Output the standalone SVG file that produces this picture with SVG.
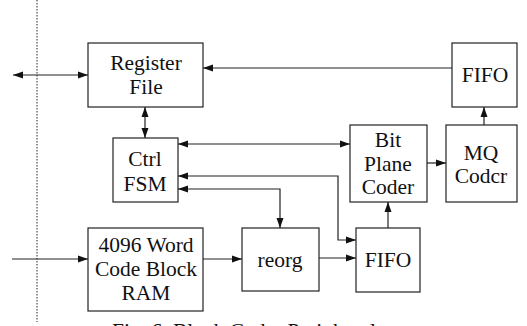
<svg xmlns="http://www.w3.org/2000/svg" width="527" height="326" viewBox="0 0 527 326">
<defs>
<marker id="ah" markerUnits="userSpaceOnUse" markerWidth="11" markerHeight="8" refX="10" refY="4" orient="auto-start-reverse">
<path d="M0,0.5 L10,4 L0,7.5 Z" fill="#111"/>
</marker>
<style>
.box{fill:#fff;stroke:#222;stroke-width:1.2}
.t{font-family:'Liberation Serif','DejaVu Serif',serif;font-size:21.5px;fill:#111;text-anchor:middle}
.c{fill:none;stroke:#222;stroke-width:1.2}
.e{marker-end:url(#ah)}
.b{marker-start:url(#ah);marker-end:url(#ah)}
</style>
</defs>
<rect width="527" height="326" fill="#fff"/>
<line x1="37" y1="0" x2="37" y2="322" stroke="#222" stroke-width="1" stroke-dasharray="1.5,1.5"/>
<g id="connectors">
<line class="c b" x1="13" y1="75" x2="88" y2="75"/>
<line class="c e" x1="452" y1="68" x2="203" y2="68"/>
<line class="c b" x1="145" y1="107" x2="145" y2="138"/>
<line class="c b" x1="178" y1="144" x2="350" y2="144"/>
<path class="c b" d="M178,176 H338 V240 H356"/>
<path class="c b" d="M178,189 H280 V228"/>
<line class="c e" x1="12" y1="259" x2="88" y2="259"/>
<line class="c e" x1="203" y1="259" x2="242" y2="259"/>
<line class="c e" x1="319" y1="258" x2="356" y2="258"/>
<line class="c e" x1="388" y1="228" x2="388" y2="202"/>
<line class="c e" x1="427" y1="163" x2="446" y2="163"/>
<line class="c e" x1="484" y1="125" x2="484" y2="107"/>
</g>
<g id="register-file">
<rect class="box" x="88" y="43" width="115" height="64"/>
<text class="t" x="146" y="70">Register</text>
<text class="t" x="146" y="94">File</text>
</g>
<g id="ctrl-fsm">
<rect class="box" x="113" y="138" width="65" height="64"/>
<text class="t" x="145" y="166">Ctrl</text>
<text class="t" x="145" y="191">FSM</text>
</g>
<g id="code-block-ram">
<rect class="box" x="88" y="228" width="115" height="83"/>
<text class="t" x="146" y="252">4096 Word</text>
<text class="t" x="146" y="276">Code Block</text>
<text class="t" x="146" y="300">RAM</text>
</g>
<g id="reorg">
<rect class="box" x="242" y="228" width="77" height="63"/>
<text class="t" x="280" y="267">reorg</text>
</g>
<g id="fifo-bottom">
<rect class="box" x="356" y="228" width="64" height="64"/>
<text class="t" x="388" y="267">FIFO</text>
</g>
<g id="bit-plane-coder">
<rect class="box" x="350" y="125" width="77" height="77"/>
<text class="t" x="388" y="147">Bit</text>
<text class="t" x="388" y="171">Plane</text>
<text class="t" x="388" y="194">Coder</text>
</g>
<g id="mq-coder">
<rect class="box" x="446" y="125" width="71" height="77"/>
<text class="t" x="481" y="160">MQ</text>
<text class="t" x="481" y="183">Codcr</text>
</g>
<g id="fifo-top">
<rect class="box" x="452" y="43" width="65" height="64"/>
<text class="t" x="485" y="82">FIFO</text>
</g>
<text class="t" x="244" y="338">Fig. 6. Block Coder Peripheral</text>
</svg>
